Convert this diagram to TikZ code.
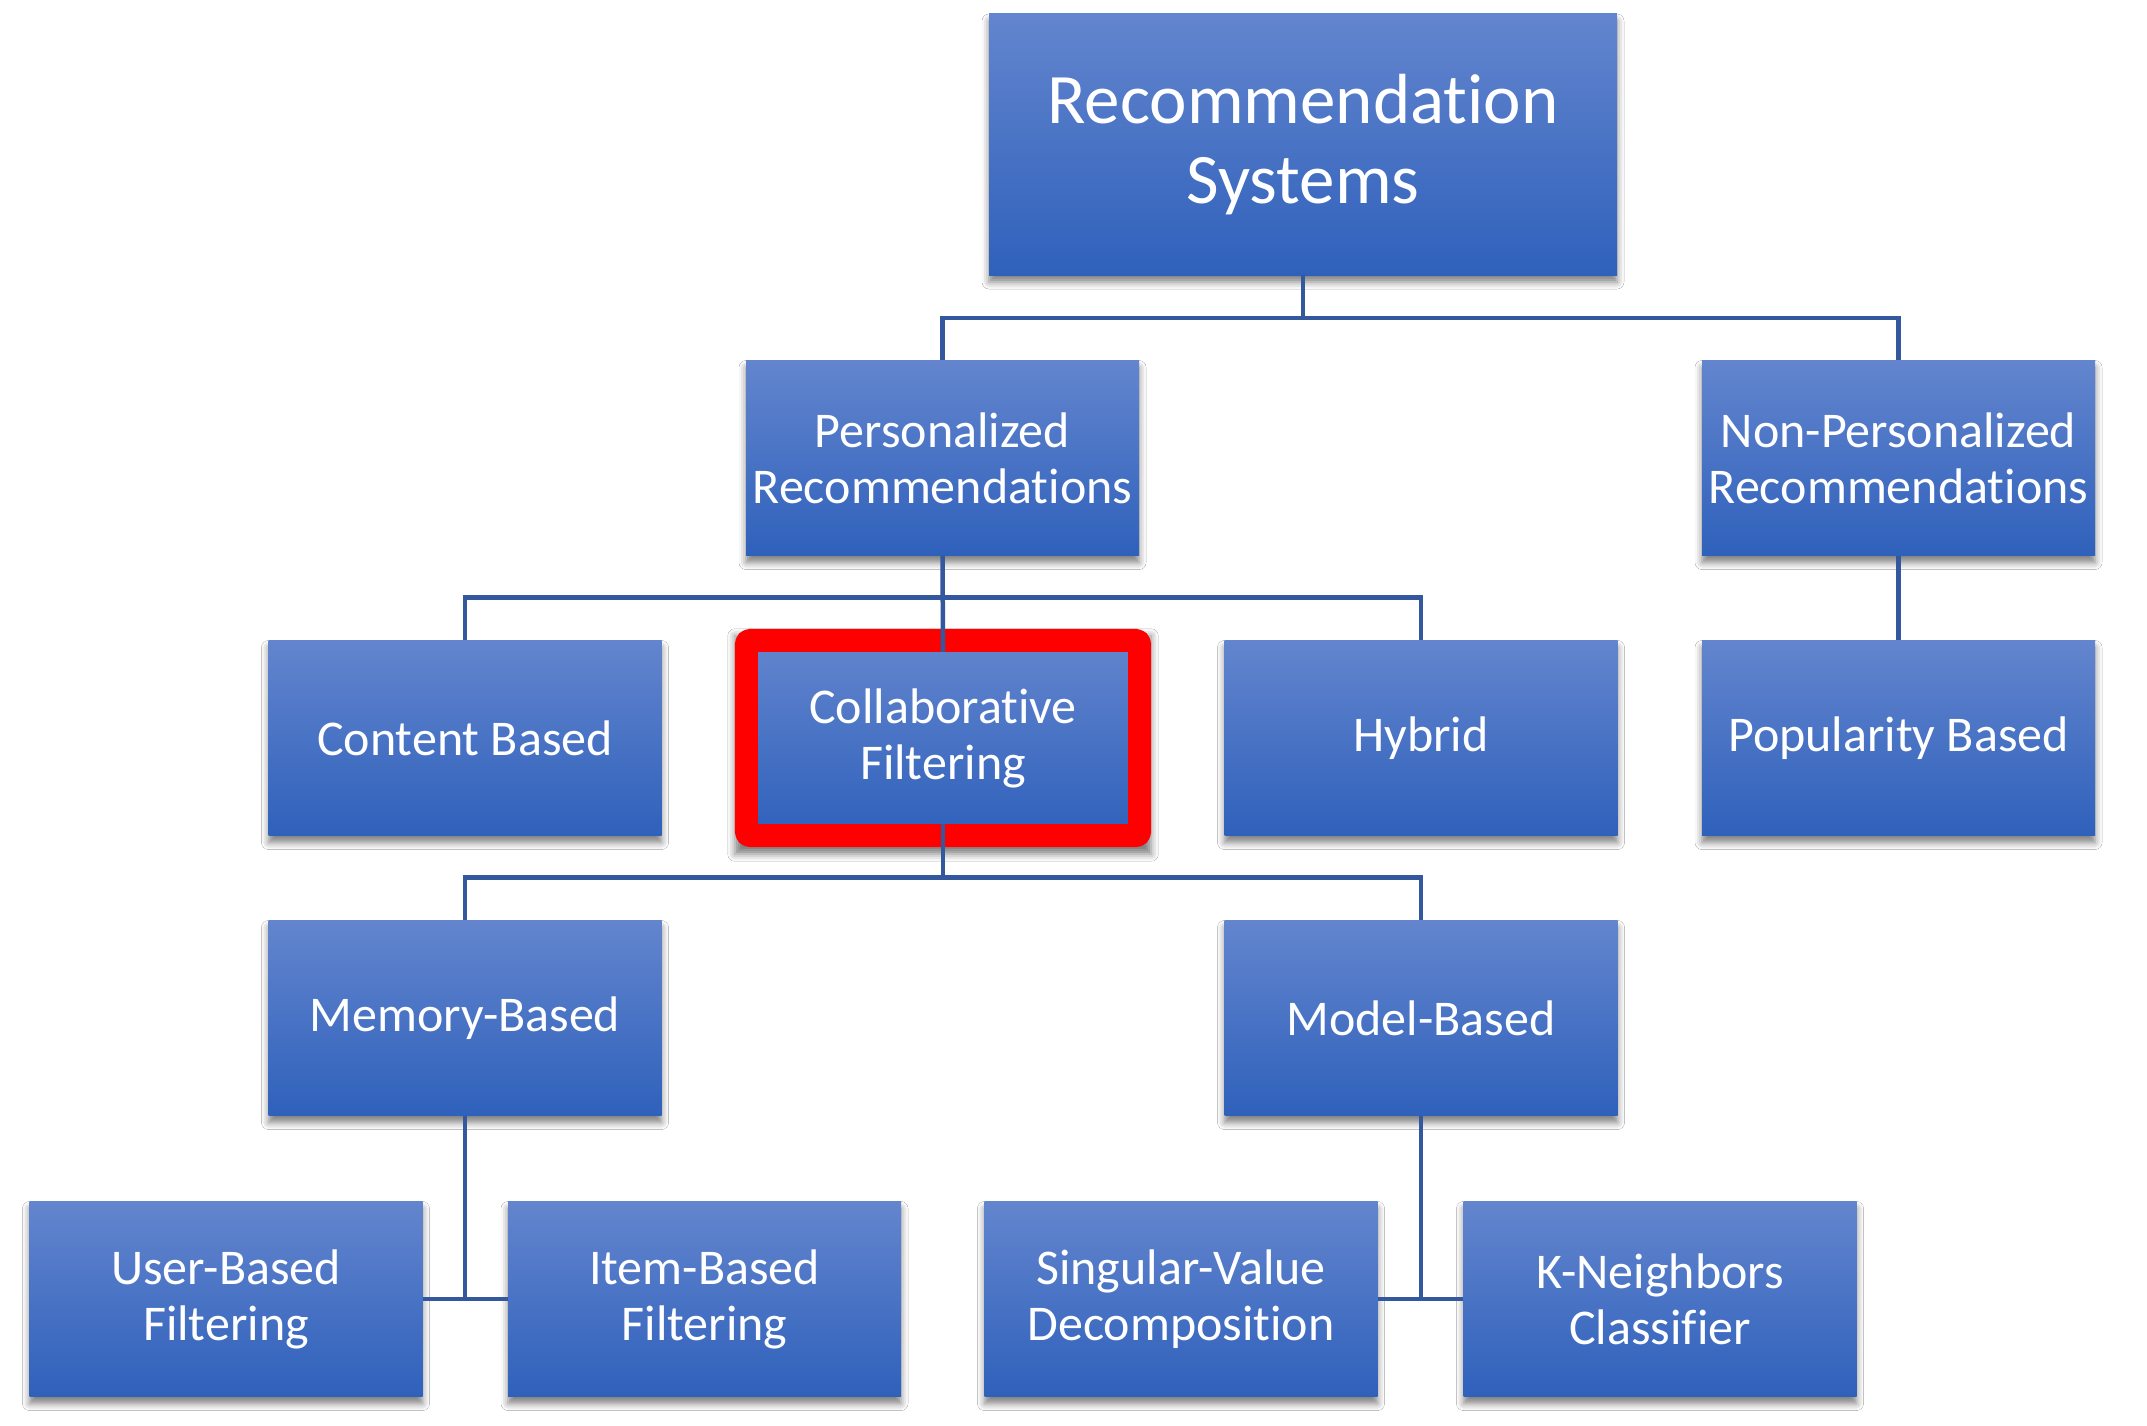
\documentclass[tikz,border=0pt]{standalone}
\usepackage{fontspec}
\setmainfont{Carlito}[Ligatures=NoCommon]
\usetikzlibrary{shadows.blur,backgrounds}
\definecolor{boxtop}{RGB}{99,133,206}
\definecolor{boxbot}{RGB}{47,97,187}
\definecolor{connc}{RGB}{52,88,158}
\tikzset{
  mshadow/.style={blur shadow={shadow xshift=0pt, shadow yshift=-7pt, shadow blur radius=7pt, shadow opacity=50}},
  box/.style={rectangle, minimum width=393pt, minimum height=195pt, inner sep=0pt,
    top color=boxtop, bottom color=boxbot, text=white, align=center,
    font=\fontsize{50}{56}\selectfont},
  sbox/.style={box, mshadow},
  conn/.style={draw=connc, line width=4.5pt},
  hilite/.style={draw=red, line width=23pt, line join=round, rounded corners=4pt},
}
\begin{document}
\begin{tikzpicture}[x=1pt,y=-1pt]
\useasboundingbox (0,0) rectangle (2147,1426);

\node[sbox, minimum width=628pt, minimum height=261pt, font=\fontsize{71}{80}\selectfont] (root) at (1303,144.5) {Recommendation\\Systems};
\node[sbox] (pers) at (942.5,458) {Personalized\\Recommendations};
\node[sbox] (nonp) at (1898.5,458) {Non-Personalized\\Recommendations};
\node[sbox] (cb) at (465,738) {Content Based};
\node[box] (cf) at (943,738) {Collaborative\\Filtering};
\node[sbox] (hy) at (1421,738) {Hybrid};
\node[sbox] (pop) at (1898.5,738) {Popularity Based};
\node[sbox] (mem) at (465,1018) {Memory-Based};
\node[sbox] (mod) at (1421,1018) {Model-Based};
\node[sbox] (ub) at (226,1299) {User-Based\\Filtering};
\node[sbox] (ib) at (704.5,1299) {Item-Based\\Filtering};
\node[sbox] (svd) at (1181,1299) {Singular-Value\\Decomposition};
\node[sbox] (kn) at (1660,1299) {K-Neighbors\\Classifier};

\begin{scope}[on background layer]
  \fill[white] (0,0) rectangle (2147,1426);
  \path[mshadow] ([shift={(-11.5,-11.5)}]cf.north west) rectangle ([shift={(11.5,11.5)}]cf.south east);
\end{scope}
\draw[hilite] (cf.south west) rectangle (cf.north east);

\path (root.south) ++(0,43) coordinate (b1);
\draw[conn] (root.south) -- (b1);
\draw[conn] (pers.north) |- (b1) -| (nonp.north);

\path (pers.south) ++(0,42) coordinate (b2);
\draw[conn] (pers.south) -- ([yshift=-11.5pt]cf.north);
\draw[conn] (cb.north) |- (b2) -| (hy.north);
\draw[conn] (nonp.south) -- (pop.north);

\path (cf.south) ++(0,42) coordinate (b3);
\draw[conn] ([yshift=11.5pt]cf.south) -- (b3);
\draw[conn] (mem.north) |- (b3) -| (mod.north);

\draw[conn] (mem.south) -- (mem.south |- ub.east);
\draw[conn] (ub.east) -- (ib.west);
\draw[conn] (mod.south) -- (mod.south |- svd.east);
\draw[conn] (svd.east) -- (kn.west);
\end{tikzpicture}
\end{document}
